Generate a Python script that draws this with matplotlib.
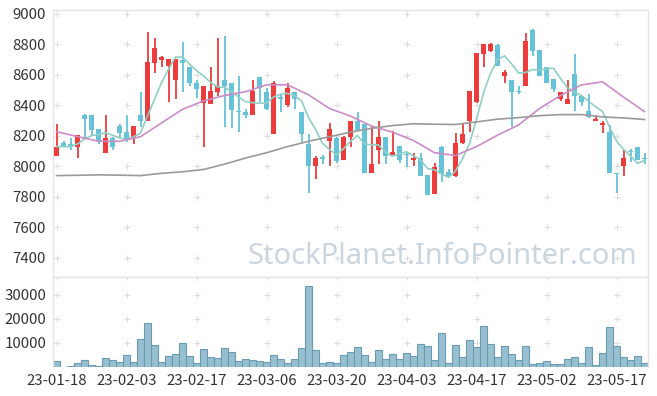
import numpy as np
import pandas as pd
import matplotlib
matplotlib.use("Agg")
import matplotlib.pyplot as plt

plt.rcParams['font.family'] = ['Noto Sans CJK KR', 'DejaVu Sans']

# daily candles, 23-01-18 .. 23-05-23 (85 trading days)
opens = [8070, 8155, 8145, 8125, 8340, 8335, 8245, 8085, 8185, 8265,
         8225, 8185, 8340, 8300, 8680, 8700, 8660, 8565, 8695, 8655,
         8550, 8415, 8410, 8490, 8565, 8545, 8365, 8355, 8340, 8585,
         8490, 8210, 8455, 8400, 8490, 8355, 8145, 8000, 8060, 8170,
         8185, 8045, 8190, 8300, 8280, 7955, 8110, 8190, 8075, 8135,
         8082, 8045, 8055, 7945, 7822, 8130, 7965, 7935, 8155, 8295,
         8425, 8740, 8755, 8795, 8590, 8570, 8497, 8530, 8895, 8765,
         8650, 8575, 8445, 8410, 8605, 8465, 8365, 8300, 8275, 8225,
         7958, 8000, 8100, 8130, 8058]
highs = [8280, 8170, 8185, 8205, 8345, 8335, 8245, 8340, 8190, 8280,
         8340, 8265, 8485, 8880, 8840, 8725, 8705, 8705, 8815, 8655,
         8570, 8530, 8650, 8840, 8855, 8545, 8590, 8380, 8565, 8585,
         8515, 8560, 8475, 8545, 8490, 8355, 8210, 8070, 8075, 8285,
         8190, 8200, 8300, 8355, 8280, 8265, 8300, 8190, 8230, 8135,
         8097, 8085, 8090, 7945, 8020, 8135, 7985, 8220, 8285, 8495,
         8745, 8805, 8810, 8800, 8635, 8570, 8525, 8875, 8900, 8765,
         8650, 8575, 8490, 8570, 8740, 8465, 8475, 8335, 8295, 8275,
         7960, 8105, 8115, 8130, 8085]
lows = [8070, 8125, 8110, 8055, 8180, 8205, 8150, 8085, 8110, 8185,
        8160, 8145, 8260, 8300, 8610, 8650, 8420, 8440, 8490, 8530,
        8450, 8130, 8410, 8460, 8260, 8250, 8225, 8320, 8340, 8425,
        8370, 8210, 8355, 8390, 8380, 8155, 7825, 7915, 8015, 8000,
        8020, 8045, 8125, 8235, 7960, 7955, 8015, 8015, 8075, 8020,
        7997, 8005, 7940, 7815, 7820, 7900, 7930, 7930, 8150, 8225,
        8415, 8655, 8750, 8660, 8550, 8260, 8475, 8530, 8725, 8590,
        8545, 8485, 8430, 8410, 8365, 8395, 8320, 8298, 8220, 7955,
        7825, 7935, 8030, 8045, 8015]
closes = [8130, 8130, 8125, 8205, 8310, 8240, 8165, 8185, 8125, 8220,
          8180, 8265, 8300, 8685, 8775, 8720, 8705, 8705, 8680, 8545,
          8510, 8530, 8495, 8530, 8530, 8370, 8355, 8340, 8495, 8515,
          8375, 8550, 8440, 8515, 8440, 8210, 8000, 8055, 8050, 8245,
          8035, 8195, 8300, 8240, 7960, 8015, 8190, 8070, 8095, 8045,
          8078, 8058, 7940, 7815, 7997, 7950, 7935, 8155, 8215, 8495,
          8745, 8800, 8800, 8660, 8620, 8490, 8490, 8820, 8760, 8590,
          8545, 8505, 8490, 8445, 8460, 8420, 8325, 8312, 8287, 7955,
          7953, 8055, 8095, 8045, 8048]
volumes = [2640, 200, 420, 1670, 3060, 970, 560, 3750, 3060, 2090,
           5000, 2220, 11700, 18350, 9170, 2220, 4590, 5420, 10000, 4590,
           1670, 7500, 4170, 3750, 7920, 6250, 2500, 3340, 2920, 2640,
           2220, 5000, 3340, 1810, 3340, 7920, 33900, 7080, 1670, 2090,
           1670, 5000, 6250, 8340, 5000, 2090, 7080, 3340, 5420, 3340,
           5840, 4590, 9590, 8760, 2920, 14180, 1670, 9170, 4170, 11260,
           8340, 17100, 9590, 4170, 8760, 5420, 2920, 8760, 1250, 1670,
           2500, 1250, 1250, 3340, 4170, 1670, 8340, 830, 5840, 16680,
           8760, 4170, 2920, 4590, 1670]

# 20 and 60 day averages every third day
ma_idx = list(range(0, 85, 3))
ma20 = [8228, 8196, 8165, 8165, 8195, 8285, 8375, 8430, 8465, 8490,
        8535, 8535, 8470, 8380, 8330, 8265, 8225, 8170, 8090, 8072,
        8130, 8205, 8272, 8380, 8465, 8535, 8555, 8455, 8360]
ma60 = [7940, 7942, 7945, 7943, 7940, 7955, 7965, 7980, 8015, 8055,
        8090, 8130, 8165, 8195, 8225, 8250, 8268, 8280, 8277, 8275,
        8292, 8310, 8320, 8333, 8340, 8340, 8325, 8318, 8308]

tick_labels = ['23-01-18', '23-02-03', '23-02-17', '23-03-06', '23-03-20',
               '23-04-03', '23-04-17', '23-05-02', '23-05-17']
price_ticks = [7400, 7600, 7800, 8000, 8200, 8400, 8600, 8800, 9000]
vol_ticks = [10000, 20000, 30000]

UP = '#ee3b3b'
DOWN = '#66c2d9'
GRID = '#e4e4e4'

df = pd.DataFrame({'open': opens, 'high': highs, 'low': lows, 'close': closes, 'vol': volumes})
df['ma5'] = df['close'].rolling(5, min_periods=1).mean()
x = np.arange(len(df))
colors = [UP if c >= o else DOWN for o, c in zip(df['open'], df['close'])]

fig = plt.figure(figsize=(6.57, 3.96), dpi=100)
ax = fig.add_axes([53 / 657, 119 / 396, 595 / 657, 267 / 396])
axv = fig.add_axes([53 / 657, 29 / 396, 595 / 657, 90 / 396])

# candles
body_lo = np.minimum(df['open'], df['close'])
body_h = np.maximum(np.abs(df['close'] - df['open']), 4)
ax.vlines(x, df['low'], df['high'], colors=colors, linewidth=1.3, zorder=3)
ax.bar(x, body_h, bottom=body_lo, width=0.72, color=colors, zorder=4)

# moving averages
ax.plot(x, df['ma5'], color='#8fd0c5', lw=1.2, zorder=5)
ax.plot(ma_idx, ma20, color='#cc8cc6', lw=1.2, zorder=5)
ax.plot(ma_idx, ma60, color='#9a9a9a', lw=1.2, zorder=5)

ax.text(0.982, 0.075, 'StockPlanet.InfoPointer.com', transform=ax.transAxes,
        ha='right', va='center', fontsize=20.9, color='#cbd5de', zorder=1,
        family=['Noto Sans', 'DejaVu Sans'])

# volume
axv.bar(x, df['vol'], width=1.0, color='#97bfd0', edgecolor='#6a9bb3', linewidth=0.8)

xt = list(range(0, 85, 10))
for a, yt, ylim in ((ax, price_ticks, (7275, 9026)), (axv, vol_ticks, (0, 37500))):
    a.set_xlim(-0.5, len(df) - 0.5)
    a.set_ylim(*ylim)
    a.set_yticks(yt)
    a.set_xticks(xt)
    a.tick_params(length=0, labelsize=10.8, colors='#333333', pad=5)
    for s in a.spines.values():
        s.set_color(GRID)
        s.set_linewidth(1)
    gx, gy = np.meshgrid(xt, list(yt) + [ylim[1]])
    a.scatter(gx.ravel(), gy.ravel(), marker='+', s=14, color='#dddddd', linewidths=0.8, zorder=0)

ax.set_xticklabels([])
axv.set_xticklabels(tick_labels)
axv.spines['bottom'].set_visible(False)

fig.savefig('out.png', dpi=100)
